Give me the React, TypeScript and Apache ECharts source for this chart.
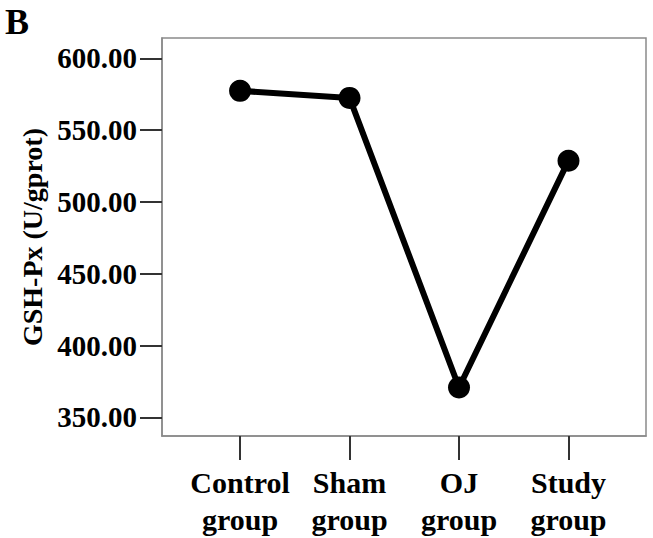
import React, { useEffect, useRef } from "react";
import * as echarts from "echarts";

const categories = ["Control\ngroup", "Sham\ngroup", "OJ\ngroup", "Study\ngroup"];
const values = [577.3, 572.4, 370.8, 528.7];
const yTicks = [350, 400, 450, 500, 550, 600];
const yName = "GSH-Px (U/gprot)";
const panelLabel = "B";

export default function App() {
  const ref = useRef<HTMLDivElement>(null);
  useEffect(() => {
    const chart = echarts.init(ref.current!, null, { renderer: "svg" });
    const font = "'Liberation Serif', 'Times New Roman', serif";
    const xIdx = categories.map((_, i) => i);
    chart.setOption({
      animation: false,
      backgroundColor: "#ffffff",
      graphic: [
        {
          type: "text",
          left: 5,
          top: 4,
          style: { text: panelLabel, font: `bold 36px ${font}`, fill: "#000" },
        },
      ],
      grid: {
        left: 162,
        top: 38,
        right: 7,
        bottom: 101,
        show: true,
        borderColor: "#8a8a8a",
        borderWidth: 1.5,
        containLabel: false,
      },
      xAxis: {
        type: "value",
        min: -0.713,
        max: 3.708,
        splitLine: { show: false },
        axisLine: { show: true, onZero: false, lineStyle: { color: "#8a8a8a", width: 1.5 } },
        axisTick: {
          show: true,
          length: 24,
          customValues: xIdx,
          lineStyle: { color: "#333", width: 2 },
        },
        axisLabel: {
          customValues: xIdx,
          margin: 28,
          formatter: (v: number) => categories[Math.round(v)] ?? "",
          fontFamily: font,
          fontWeight: "bold",
          fontSize: 30,
          lineHeight: 37,
          color: "#000",
        },
      },
      yAxis: {
        type: "value",
        min: 337,
        max: 614.1,
        name: yName,
        nameLocation: "middle",
        nameGap: 112,
        nameTextStyle: {
          fontFamily: font,
          fontWeight: "bold",
          fontSize: 28,
          color: "#000",
        },
        splitLine: { show: false },
        axisLine: { show: true, onZero: false, lineStyle: { color: "#8a8a8a", width: 1.5 } },
        axisTick: {
          show: true,
          length: 22,
          customValues: yTicks,
          lineStyle: { color: "#333", width: 2 },
        },
        axisLabel: {
          customValues: yTicks,
          margin: 25,
          formatter: (v: number) => v.toFixed(2),
          fontFamily: font,
          fontWeight: "bold",
          fontSize: 29,
          color: "#000",
        },
      },
      series: [
        {
          type: "line",
          data: values.map((v, i) => [i, v]),
          symbol: "circle",
          symbolSize: 22,
          lineStyle: { color: "#000", width: 6 },
          itemStyle: { color: "#000" },
        },
      ],
    });
    return () => chart.dispose();
  }, []);
  return (
    <div
      ref={ref}
      style={{ position: "fixed", left: 0, top: 0, width: 653, height: 538 }}
    />
  );
}
